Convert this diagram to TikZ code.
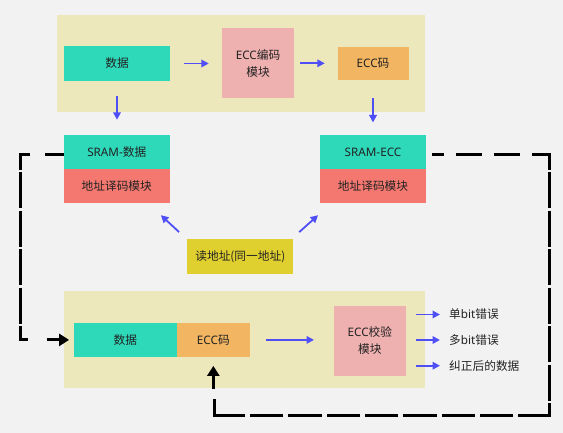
\documentclass[tikz,border=0pt]{standalone}
\usepackage{fontspec}
\setmainfont{Noto Sans CJK SC}
\newfontfamily\lat{Noto Sans}
\usetikzlibrary{arrows.meta}
\definecolor{cbg}{HTML}{F2F2F2}
\definecolor{cpanel}{HTML}{EDE8BB}
\definecolor{cteal}{HTML}{2ED9BA}
\definecolor{cpink}{HTML}{EFB0B0}
\definecolor{corange}{HTML}{F2B663}
\definecolor{cred}{HTML}{F47870}
\definecolor{cyel}{HTML}{E0D02F}
\definecolor{cblue}{HTML}{4F4FF5}
\definecolor{ctext}{HTML}{222222}
\begin{document}
\begin{tikzpicture}[x=1pt,y=-1pt,
  font=\fontsize{11.7}{17}\selectfont,
  box/.style={rectangle,inner sep=0pt,align=center,text=ctext},
  panelbox/.style={rectangle,inner sep=0pt,fill=cpanel},
  barrow/.style={draw=cblue,line width=1.8pt,-{Triangle[length=7.5pt,width=7.5pt]}},
  kline/.style={draw=black,line width=3pt,line join=miter},
  karrow/.style={draw=black,line width=3pt,-{Triangle[length=10pt,width=12pt]}},
  lab/.style={anchor=west,inner sep=0pt,text=ctext}]
\fill[cbg] (0,0) rectangle (563,433);
\useasboundingbox (0,0) rectangle (563,433);
% panels
\node[panelbox,minimum width=368.5pt,minimum height=96.7pt] (top) at (240.75,63.35) {};
\node[panelbox,minimum width=361pt,minimum height=97.3pt] (bot) at (244.5,339.65) {};
% top row
\node[box,fill=cteal,minimum width=106pt,minimum height=35pt] (d1) at (117,63.5) {数据};
\node[box,fill=cpink,minimum width=72pt,minimum height=70pt] (enc) at (258,63.3) {{\lat ECC}编码\\模块};
\node[box,fill=corange,minimum width=71pt,minimum height=32.5pt] (ecc1) at (373,63.5) {{\lat ECC}码};
% SRAMs
\node[box,fill=cteal,minimum width=105.5pt,minimum height=34.3pt] (sram1) at (116.75,152.15) {{\lat SRAM-}数据};
\node[box,fill=cred,minimum width=105.5pt,minimum height=34pt] (dec1) at (116.75,186.3) {地址译码模块};
\node[box,fill=cteal,minimum width=106pt,minimum height=34.3pt] (sram2) at (373,152.15) {{\lat SRAM-ECC}};
\node[box,fill=cred,minimum width=106pt,minimum height=34pt] (dec2) at (373,186.3) {地址译码模块};
% read address
\node[box,fill=cyel,minimum width=106pt,minimum height=35.3pt] (read) at (240.3,256.35) {读地址(同一地址)};
% bottom row
\node[box,fill=cteal,minimum width=103.3pt,minimum height=33.2pt] (d2) at (125.35,339.9) {数据};
\node[box,fill=corange,minimum width=72.7pt,minimum height=33.2pt] (ecc2) at (213.35,339.9) {{\lat ECC}码};
\node[box,fill=cpink,minimum width=71.7pt,minimum height=70pt] (chk) at (369.85,340.7) {{\lat ECC}校验\\模块};
\node[lab] (o1) at (449,314.5) {单{\lat bit}错误};
\node[lab] (o2) at (449,340) {多{\lat bit}错误};
\node[lab] (o3) at (449,365.7) {纠正后的数据};
% blue arrows
\draw[barrow,shorten <=13.5pt,shorten >=13pt] (d1.east) -- (d1.east -| enc.west);
\draw[barrow,shorten <=6.2pt,shorten >=12.5pt] (enc.east) -- (enc.east -| ecc1.west);
\draw[barrow,shorten <=14.7pt,shorten >=15pt] (d1.south) -- (d1.south |- sram1.north);
\draw[barrow,shorten <=18pt,shorten >=12.3pt] (ecc1.south) -- (ecc1.south |- sram2.north);
\draw[barrow] ([shift={(-8,-6.4)}]read.north west) -- ([shift={(-8.8,11.7)}]dec1.south east);
\draw[barrow] ([shift={(5.7,-6.4)}]read.north east) -- ([shift={(-1.7,11.7)}]dec2.south west);
\draw[barrow,shorten <=16pt,shorten >=19.8pt] (ecc2.east) -- (ecc2.east -| chk.west);
\draw[barrow,shorten <=10pt,shorten >=9pt] (o1.west -| chk.east) -- (o1.west);
\draw[barrow,shorten <=10pt,shorten >=9pt] (o2.west -| chk.east) -- (o2.west);
\draw[barrow,shorten <=10pt,shorten >=9pt] (o3.west -| chk.east) -- (o3.west);
% black dashed connectors
\coordinate (L1) at (20.7,155);
\coordinate (L2) at (20.7,339.3);
\coordinate (R1) at (549.3,155);
\coordinate (R2) at (549.3,415.5);
\coordinate (B1) at (214,415.5);
\coordinate (B2) at (214,399.3);
\draw[kline,dash pattern={on 19pt off 15pt on 23.8pt off 2.5pt on 36pt off 2.5pt on 36pt off 2.5pt on 36pt off 2.5pt on 36pt off 2.5pt on 30pt off 10pt}]
  (sram1.west |- L1) -- (L1) -- (L2) -- ++(7.6,0);
\draw[karrow] ([xshift=-27pt]d2.west) -- ([xshift=-4.4pt]d2.west);
\draw[kline,dash pattern={on 11.3pt off 12.4pt on 26pt off 12.3pt on 25.3pt off 12.4pt on 32.1pt off 2.5pt on 36pt off 2.5pt on 36pt off 2.5pt on 36pt off 2.5pt on 36pt off 2.5pt on 36pt off 2.5pt on 36pt off 2.5pt on 43.5pt off 5pt on 33.3pt off 5pt on 33.3pt off 5pt on 33.3pt off 5pt on 33.3pt off 5pt on 33.3pt off 5pt on 33.3pt off 5pt on 33.3pt off 5pt on 50pt off 10pt}]
  (sram2.east |- R1) ++(6,0) -- (R1) -- (R2) -- (B1) -- (B2);
\draw[karrow] ([yshift=-32.5pt]ecc2.south) -- ([yshift=-9.2pt]ecc2.south);
\end{tikzpicture}
\end{document}
